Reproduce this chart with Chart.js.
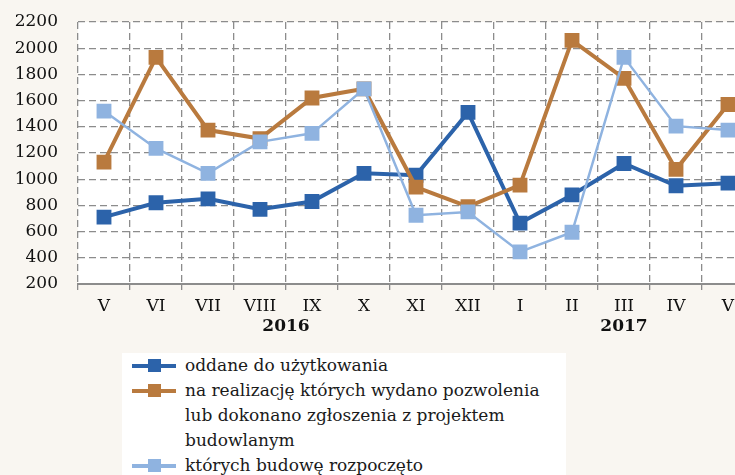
<!DOCTYPE html>
<html lang="pl">
<head>
<meta charset="utf-8">
<title>Mieszkania</title>
<script src="https://cdn.jsdelivr.net/npm/chart.js@4"></script>
<style>
  html, body { margin: 0; padding: 0; background: #f9f6f1; overflow: hidden; }
  #wrap { position: relative; width: 735px; height: 475px; overflow: hidden; }
  #my-chart { position: absolute; left: 0; top: 0; }
  #legend {
    position: absolute; left: 122px; top: 353px; width: 444px; height: 140px;
    background: #ffffff; font-family: 'DejaVu Serif', serif; font-size: 17px; color: #1a1a1a;
  }
  .item { position: relative; padding-left: 63px; line-height: 25px; }
  .swatch { position: absolute; left: 10px; top: 11px; width: 44px; height: 4px; }
  .swatch span { position: absolute; left: 16px; top: -5px; width: 13px; height: 13px; }
</style>
</head>
<body>
<div id="wrap">
  <canvas id="my-chart" width="760" height="340"></canvas>
  <div id="legend"></div>
</div>
<script>
'use strict';
// ***** DATA *****
let months = ['V', 'VI', 'VII', 'VIII', 'IX', 'X', 'XI', 'XII', 'I', 'II', 'III', 'IV', 'V'];
let yearLabels = ['2016', '2017'];
let completedValues = [710, 820, 850, 770, 830, 1045, 1030, 1510, 665, 880, 1120, 950, 970];
let permitValues = [1130, 1930, 1375, 1310, 1620, 1690, 940, 790, 955, 2060, 1770, 1075, 1570];
let startedValues = [1520, 1235, 1045, 1285, 1350, 1690, 725, 750, 445, 595, 1930, 1405, 1375];
let seriesLabels = [
  ['oddane do użytkowania'],
  ['na realizację których wydano pozwolenia', 'lub dokonano zgłoszenia z projektem', 'budowlanym'],
  ['których budowę rozpoczęto']
];
let yTicks = [200, 400, 600, 800, 1000, 1200, 1400, 1600, 1800, 2000, 2200];

// ***** COLOURS *****
let darkBlue = '#2c63aa';
let orange = '#b97a3e';
let lightBlue = '#8fb3e0';
let gridGrey = '#8c8c8c';

let ctx = document.getElementById('my-chart');

// White plot area on top of the beige page
let plotBackground = {
  id: 'plotBackground',
  beforeDraw(chart) {
    let area = chart.chartArea;
    chart.ctx.save();
    chart.ctx.fillStyle = '#ffffff';
    chart.ctx.fillRect(area.left, area.top, area.right - area.left, area.bottom - area.top);
    chart.ctx.restore();
  }
};

// Year labels under the month ticks
let yearTitles = {
  id: 'yearTitles',
  afterDraw(chart) {
    let x = chart.scales.x;
    let c = chart.ctx;
    let y = chart.chartArea.bottom + 43;
    c.save();
    c.font = 'bold 17px "DejaVu Serif"';
    c.fillStyle = '#111111';
    c.textAlign = 'center';
    c.textBaseline = 'middle';
    c.fillText(yearLabels[0], (x.getPixelForValue(3) + x.getPixelForValue(4)) / 2, y);
    c.fillText(yearLabels[1], x.getPixelForValue(10), y);
    c.restore();
  }
};

function makeDataset(label, data, color, width, order) {
  return {
    label: label.join(' '),
    data: data,
    borderColor: color,
    backgroundColor: color,
    borderWidth: width,
    pointStyle: 'rect',
    pointRadius: 10.5,
    pointHoverRadius: 10.5,
    pointBorderWidth: 0,
    tension: 0,
    order: order
  };
}

let chartConfig = {
  type: 'line',
  data: {
    labels: months,
    datasets: [
      makeDataset(seriesLabels[0], completedValues, darkBlue, 4, 3),
      makeDataset(seriesLabels[1], permitValues, orange, 4, 2),
      makeDataset(seriesLabels[2], startedValues, lightBlue, 2.5, 1)
    ]
  },
  options: {
    responsive: false,
    animation: false,
    layout: { autoPadding: false, padding: { top: 22, right: 6, left: 0, bottom: 0 } },
    plugins: {
      legend: { display: false },
      tooltip: { enabled: false }
    },
    scales: {
      x: {
        offset: true,
        afterFit: (scale) => { scale.height = 56; },
        grid: {
          offset: true,
          color: gridGrey,
          lineWidth: 1.3,
          tickLength: 6,
          tickBorderDash: [],
          tickColor: gridGrey
        },
        border: { display: true, color: gridGrey, width: 2, dash: [7, 4] },
        ticks: {
          padding: 6,
          color: '#111111',
          font: { family: 'DejaVu Serif', size: 17 },
          maxRotation: 0,
          autoSkip: false
        }
      },
      y: {
        min: 200,
        max: 2200,
        // fixed axis width, and no extra room above/below for the label padding
        afterFit: (scale) => {
          scale.width = 78;
          scale.paddingTop = 0;
          scale.paddingBottom = 0;
        },
        afterBuildTicks: (scale) => { scale.ticks = yTicks.map((v) => ({ value: v })); },
        grid: { color: gridGrey, lineWidth: 1.3, drawTicks: false },
        border: { display: false, dash: [7, 4] },
        ticks: {
          padding: 20,
          color: '#111111',
          font: { family: 'DejaVu Serif', size: 17 },
          callback: (value) => String(value)
        }
      }
    }
  },
  plugins: [plotBackground, yearTitles]
};

let chart = new Chart(ctx, chartConfig);

// ***** HTML LEGEND *****
let legendBox = document.getElementById('legend');
chart.data.datasets.forEach((set, i) => {
  let item = document.createElement('div');
  item.className = 'item';
  let swatch = document.createElement('div');
  swatch.className = 'swatch';
  swatch.style.background = set.borderColor;
  let square = document.createElement('span');
  square.style.background = set.borderColor;
  swatch.appendChild(square);
  item.appendChild(swatch);
  seriesLabels[i].forEach((line, j) => {
    if (j > 0) item.appendChild(document.createElement('br'));
    item.appendChild(document.createTextNode(line));
  });
  legendBox.appendChild(item);
});
</script>
</body>
</html>
